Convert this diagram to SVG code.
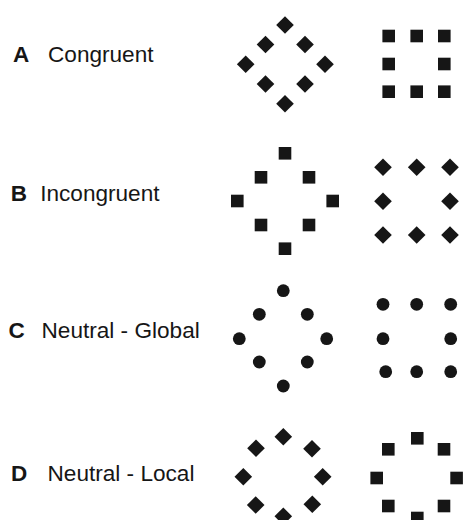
<svg xmlns="http://www.w3.org/2000/svg" xmlns:xlink="http://www.w3.org/1999/xlink" width="463" height="520" viewBox="0 0 463 520">
<style>
.lt{font-family:"Liberation Sans",Arial,sans-serif;font-size:22.5px;font-weight:bold;fill:#161616}
.tx{font-family:"Liberation Sans",Arial,sans-serif;font-size:22.6px;fill:#161616}
.sh{fill:#161616}
</style>
<defs>
<path id="d" class="sh" d="M0,-8.8L8.8,0L0,8.8L-8.8,0Z"/>
<rect id="s" class="sh" x="-6.3" y="-6.3" width="12.6" height="12.6"/>
<circle id="c" class="sh" r="6.4"/>
</defs>
<rect width="463" height="520" fill="#fff"/>
<g id="labels">
<text class="lt" x="13" y="61.5">A</text><text class="tx" x="48" y="61.5">Congruent</text>
<text class="lt" x="10.8" y="200.5">B</text><text class="tx" x="40.2" y="200.5">Incongruent</text>
<text class="lt" x="8.4" y="338.3">C</text><text class="tx" x="41.5" y="338.3">Neutral - Global</text>
<text class="lt" x="11.1" y="481">D</text><text class="tx" x="47.5" y="481">Neutral - Local</text>
</g>
<g id="A-global">
<use href="#d" x="285" y="25"/><use href="#d" x="265.5" y="44.5"/><use href="#d" x="305" y="44.5"/>
<use href="#d" x="245.7" y="64.3"/><use href="#d" x="325" y="64.3"/>
<use href="#d" x="265.5" y="84"/><use href="#d" x="305" y="84"/><use href="#d" x="285" y="103.7"/>
</g>
<g id="A-local">
<use href="#s" x="388.7" y="36"/><use href="#s" x="416.7" y="36"/><use href="#s" x="444.3" y="36"/>
<use href="#s" x="388.7" y="64"/><use href="#s" x="444.3" y="64"/>
<use href="#s" x="388.7" y="91.7"/><use href="#s" x="416.7" y="91.7"/><use href="#s" x="444.3" y="91.7"/>
</g>
<g id="B-global">
<use href="#s" x="285" y="153.3"/><use href="#s" x="261" y="177.3"/><use href="#s" x="309" y="177.3"/>
<use href="#s" x="237.3" y="201"/><use href="#s" x="332.7" y="201"/>
<use href="#s" x="261" y="225"/><use href="#s" x="309" y="225"/><use href="#s" x="285" y="248.7"/>
</g>
<g id="B-local">
<use href="#d" x="383" y="167.3"/><use href="#d" x="416.7" y="167.3"/><use href="#d" x="450" y="167.3"/>
<use href="#d" x="383" y="201.3"/><use href="#d" x="450" y="201.3"/>
<use href="#d" x="383" y="235"/><use href="#d" x="416.7" y="235"/><use href="#d" x="450" y="235"/>
</g>
<g id="C-global">
<use href="#c" x="283.3" y="290.7"/><use href="#c" x="259.3" y="314.3"/><use href="#c" x="307.3" y="314.3"/>
<use href="#c" x="239.3" y="338.7"/><use href="#c" x="326.7" y="338.7"/>
<use href="#c" x="259.3" y="362"/><use href="#c" x="307.3" y="362"/><use href="#c" x="283.3" y="386"/>
</g>
<g id="C-local">
<use href="#c" x="383" y="304.3"/><use href="#c" x="416.7" y="304.3"/><use href="#c" x="450.7" y="304.3"/>
<use href="#c" x="383" y="338.7"/><use href="#c" x="450.7" y="338.7"/>
<use href="#c" x="385.7" y="371.7"/><use href="#c" x="416.7" y="371.7"/><use href="#c" x="450.7" y="371.7"/>
</g>
<g id="D-global">
<use href="#d" x="283.3" y="436.7"/><use href="#d" x="256" y="448.3"/><use href="#d" x="312" y="448.7"/>
<use href="#d" x="243.3" y="476.7"/><use href="#d" x="322.7" y="476.7"/>
<use href="#d" x="255.7" y="505"/><use href="#d" x="312.3" y="504.3"/><use href="#d" x="283.3" y="516.3"/>
</g>
<g id="D-local">
<use href="#s" x="417.3" y="438.3"/><use href="#s" x="388.3" y="449.3"/><use href="#s" x="444" y="449.3"/>
<use href="#s" x="376.7" y="478"/><use href="#s" x="456.6" y="478"/>
<use href="#s" x="388.3" y="506"/><use href="#s" x="444" y="506"/><use href="#s" x="417.3" y="518"/>
</g>
</svg>
